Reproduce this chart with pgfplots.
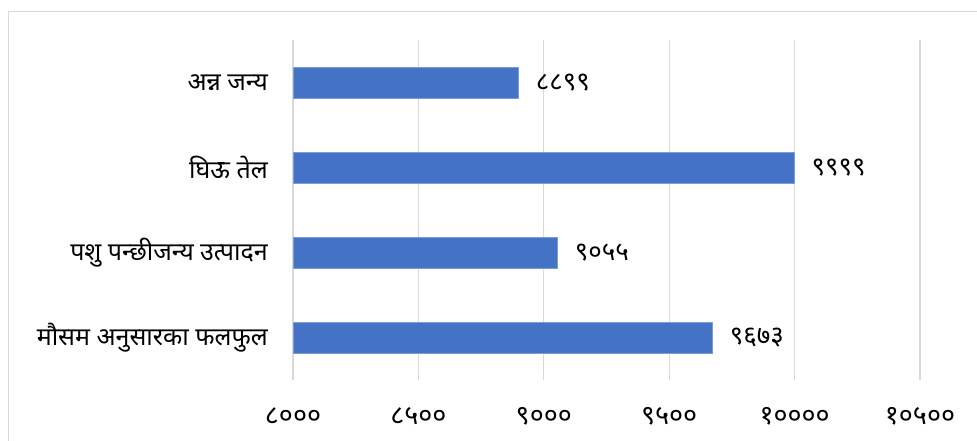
\documentclass[border=0pt]{standalone}
\usepackage{fontspec}
\usepackage{pgfplots}
\pgfplotsset{compat=1.18}
\newfontfamily\devfont[Script=Devanagari]{Noto Sans}
\definecolor{barblue}{HTML}{4472C4}
\definecolor{gridgray}{HTML}{D9D9D9}
\begin{document}
\begin{tikzpicture}[x=1pt,y=1pt]
\useasboundingbox (0,0) rectangle (977,441);
\draw[gridgray, line width=1pt] (8,-10) -- (8,429.5) -- (990,429.5);
\begin{axis}[
  at={(293pt,61pt)}, anchor=south west,
  scale only axis, width=627pt, height=340pt,
  xbar, bar width=31pt,
  xmin=8000, xmax=10500, ymin=-0.5, ymax=3.5,
  y dir=reverse,
  axis line style={draw=none},
  major tick length=0pt,
  xmajorgrids, grid style={gridgray, line width=1.2pt},
  xtick={8000,8500,9000,9500,10000,10500},
  xticklabels={८०००,८५००,९०००,९५००,१००००,१०५००},
  ytick={0,1,2,3},
  yticklabels={अन्न जन्य,घिऊ तेल,पशु पन्छीजन्य उत्पादन,मौसम अनुसारका फलफुल},
  yticklabel style={font=\devfont\fontsize{25}{28}\selectfont, inner sep=0pt, anchor=east, xshift=-25pt},
  xticklabel style={font=\devfont\fontsize{27}{30}\selectfont, inner sep=0pt, anchor=center, yshift=-36pt},
  point meta=explicit symbolic,
  nodes near coords,
  nodes near coords style={font=\devfont\fontsize{26}{30}\selectfont, anchor=west, inner sep=0pt, xshift=17pt},
  clip=true,
]
\addplot[fill=barblue, draw=barblue!70!white, line width=0.6pt] coordinates {
  (8899,0) [८८९९]
  (9999,1) [९९९९]
  (9055,2) [९०५५]
  (9673,3) [९६७३]
};
\end{axis}
\end{tikzpicture}
\end{document}
